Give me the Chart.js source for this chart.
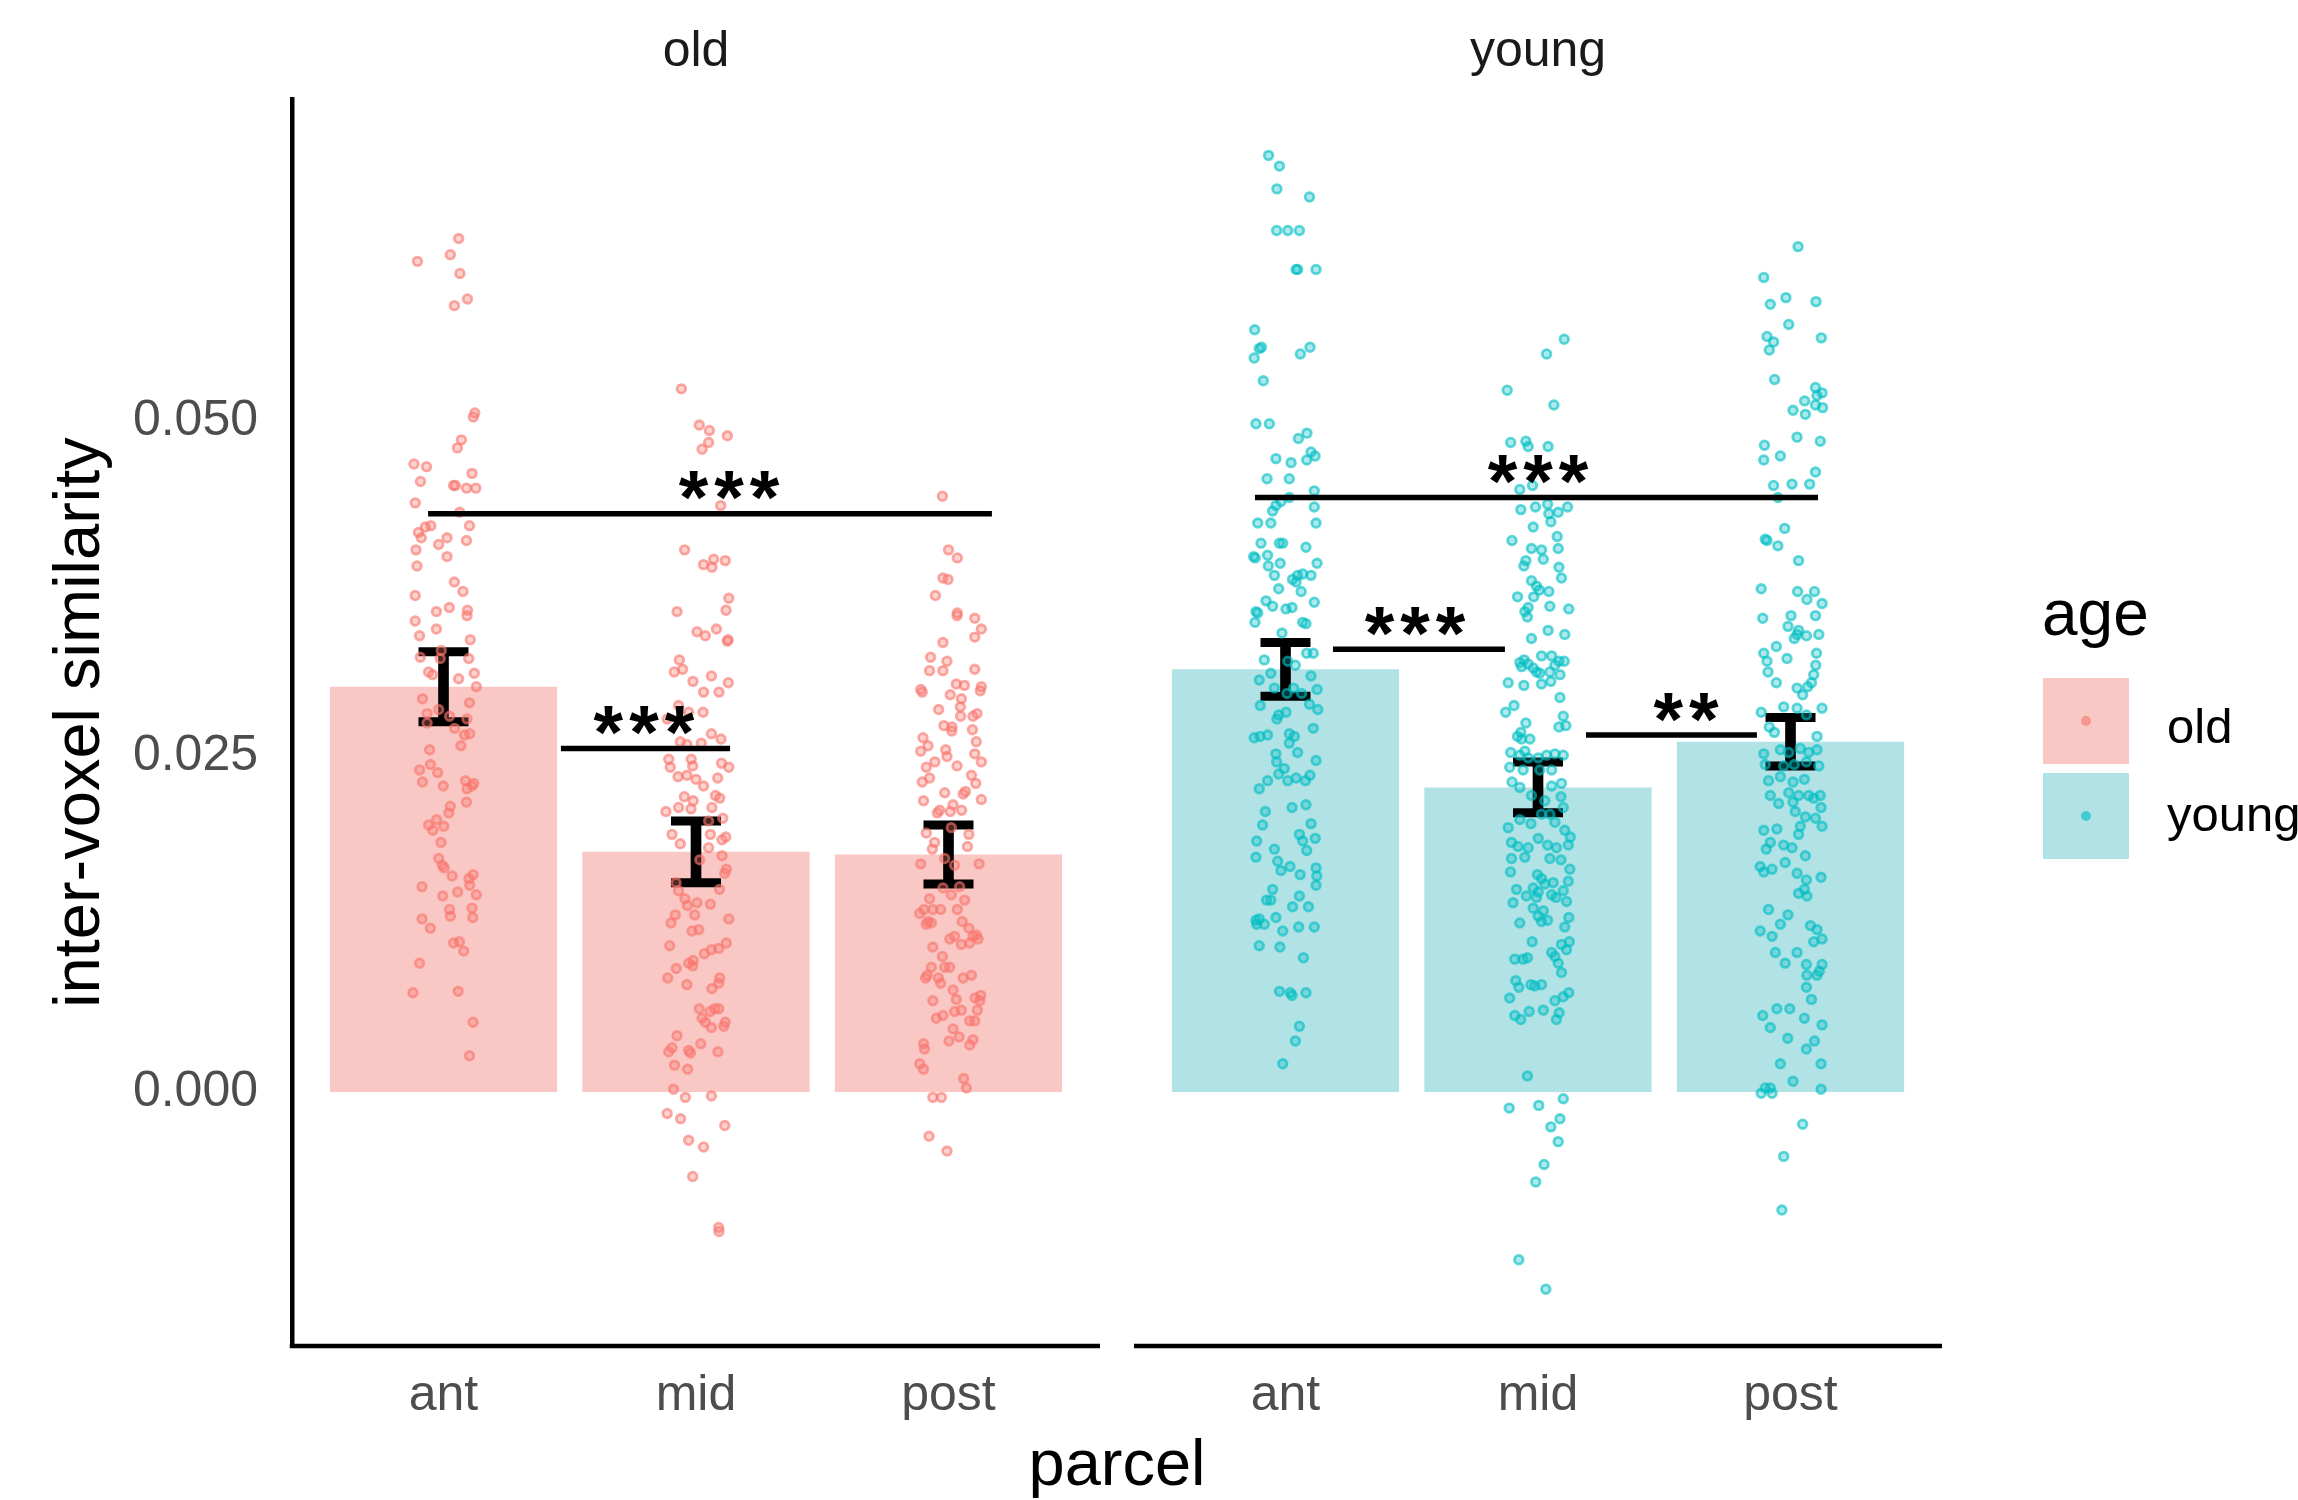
<!DOCTYPE html>
<html>
<head>
<meta charset="utf-8">
<title>inter-voxel similarity by parcel and age</title>
<script src="https://cdn.jsdelivr.net/npm/chart.js@4.4.1/dist/chart.umd.min.js"></script>
<style>
  html, body { margin: 0; padding: 0; background: #fff; overflow: hidden; }
  #wrap { position: relative; width: 2298px; height: 1500px; }
  #chart { position: absolute; left: 0; top: 0; }
  #legend { position: absolute; left: 0; top: 0; font-family: 'Liberation Sans', Arial, sans-serif; color: #000; }
  #legend .title { position: absolute; left: 2042px; top: 581px; font-size: 64px; line-height: 64px; white-space: nowrap; }
  #legend .key { position: absolute; left: 2043px; width: 86px; height: 86px; }
  #legend .key span { position: absolute; left: 38px; top: 38px; width: 10px; height: 10px; border-radius: 50%; }
  #legend .lab { position: absolute; left: 2167px; font-size: 49px; line-height: 49px; white-space: nowrap; }
</style>
</head>
<body>
<div id="wrap">
  <canvas id="chart" width="2298" height="1500"></canvas>
  <div id="legend"></div>
</div>
<script>
// ---- data ----
const parcels = ['ant', 'mid', 'post'];
const panels = ['old', 'young'];
const yTicks = [0, 0.025, 0.05];

// bar heights (means) and error bar half-widths
const oldMean = [0.0302, 0.0179, 0.0177];
const youngMean = [0.0315, 0.0227, 0.0261];
const oldSe = [0.0026, 0.0023, 0.0022];
const youngSe = [0.0020, 0.0019, 0.0018];

// significance brackets (x in parcel units inside each facet)
const sigPanel = [0, 0, 1, 1, 1];
const sigFrom = [-0.061, 0.465, -0.121, 0.188, 1.190];
const sigTo = [2.172, 1.135, 2.109, 0.869, 1.867];
const sigY = [0.0431, 0.0256, 0.0443, 0.0330, 0.0266];
const sigText = ['***', '***', '***', '***', '**'];
const sigTextX = [1.131, 0.794, 1.000, 0.513, 1.586];

// individual points: [jitter offset, value]
const oldAnt = [[0.060,0.0636],[-0.103,0.0619],[0.027,0.0624],[0.065,0.0610],[0.043,0.0586],[0.095,0.0591],
[0.124,0.0506],[0.118,0.0503],[0.071,0.0486],[0.055,0.0480],[-0.117,0.0468],[-0.067,0.0466],
[0.113,0.0461],[-0.091,0.0455],[0.040,0.0452],[0.047,0.0452],[0.091,0.0450],[0.128,0.0450],
[-0.112,0.0439],[0.064,0.0432],[-0.050,0.0422],[-0.072,0.0421],[-0.099,0.0417],[-0.088,0.0413],
[0.103,0.0422],[0.014,0.0413],[-0.019,0.0408],[0.091,0.0411],[0.014,0.0399],[-0.109,0.0404],
[-0.105,0.0392],[0.043,0.0380],[0.077,0.0373],[-0.112,0.0370],[-0.028,0.0358],[0.023,0.0361],
[0.095,0.0359],[0.093,0.0355],[-0.112,0.0351],[-0.095,0.0340],[-0.028,0.0345],[0.106,0.0337],
[-0.009,0.0329],[-0.092,0.0324],[-0.013,0.0323],[0.100,0.0323],[-0.059,0.0313],[-0.043,0.0311],
[0.122,0.0312],[0.060,0.0308],[0.130,0.0302],[-0.083,0.0293],[0.103,0.0290],[-0.019,0.0285],
[-0.065,0.0282],[0.024,0.0280],[0.093,0.0278],[-0.065,0.0275],[0.044,0.0271],[0.104,0.0267],
[0.083,0.0266],[0.069,0.0258],[-0.055,0.0255],[-0.095,0.0240],[-0.052,0.0244],[-0.023,0.0238],
[-0.083,0.0231],[-0.001,0.0228],[0.087,0.0232],[0.120,0.0230],[0.113,0.0228],[0.093,0.0226],
[0.091,0.0216],[0.027,0.0213],[0.021,0.0208],[-0.059,0.0199],[-0.042,0.0195],[-0.027,0.0203],
[0.001,0.0198],[-0.010,0.0186],[-0.019,0.0174],[-0.005,0.0169],[0.003,0.0167],[0.034,0.0161],
[0.117,0.0162],[0.101,0.0159],[0.104,0.0154],[-0.085,0.0153],[-0.003,0.0146],[0.056,0.0149],
[0.130,0.0147],[0.024,0.0136],[0.027,0.0131],[0.113,0.0137],[0.116,0.0130],[-0.085,0.0129],
[-0.052,0.0122],[0.040,0.0111],[0.063,0.0112],[0.080,0.0105],[-0.095,0.0096],[-0.121,0.0074],
[0.058,0.0075],[0.117,0.0052],[0.103,0.0027]];

const oldMid = [[-0.058,0.0524],[0.013,0.0497],[0.053,0.0493],[0.050,0.0484],[0.024,0.0479],[0.124,0.0489],
[0.098,0.0437],[-0.045,0.0404],[0.030,0.0393],[0.063,0.0391],[0.070,0.0397],[0.116,0.0396],
[0.130,0.0368],[0.119,0.0359],[-0.075,0.0358],[0.004,0.0343],[0.037,0.0340],[0.081,0.0345],
[0.127,0.0337],[0.124,0.0336],[-0.066,0.0322],[-0.086,0.0313],[-0.053,0.0315],[-0.012,0.0306],
[0.061,0.0310],[0.128,0.0305],[0.030,0.0298],[0.091,0.0298],[-0.069,0.0288],[-0.029,0.0283],
[0.028,0.0283],[-0.114,0.0278],[0.099,0.0263],[0.061,0.0267],[0.021,0.0260],[-0.062,0.0261],
[-0.036,0.0259],[-0.108,0.0248],[-0.102,0.0242],[-0.019,0.0248],[-0.013,0.0243],[0.101,0.0245],
[0.130,0.0242],[-0.071,0.0235],[-0.036,0.0236],[0.000,0.0233],[0.030,0.0228],[0.086,0.0234],
[-0.046,0.0220],[-0.011,0.0217],[0.077,0.0221],[0.094,0.0219],[-0.119,0.0209],[-0.069,0.0212],
[-0.020,0.0211],[0.063,0.0212],[0.050,0.0202],[0.106,0.0204],[-0.095,0.0192],[-0.062,0.0185],
[0.057,0.0192],[0.118,0.0190],[0.103,0.0188],[0.050,0.0182],[0.015,0.0173],[0.103,0.0176],
[0.120,0.0166],[0.114,0.0163],[-0.079,0.0156],[-0.069,0.0150],[-0.044,0.0144],[-0.034,0.0139],
[0.093,0.0151],[0.004,0.0141],[0.057,0.0140],[-0.082,0.0132],[-0.099,0.0126],[-0.005,0.0132],
[0.011,0.0121],[-0.016,0.0120],[0.130,0.0129],[-0.104,0.0109],[0.120,0.0111],[0.090,0.0107],
[0.061,0.0106],[0.033,0.0103],[-0.112,0.0085],[-0.078,0.0092],[-0.036,0.0080],[-0.029,0.0096],
[-0.011,0.0098],[-0.013,0.0094],[0.094,0.0085],[0.090,0.0081],[0.063,0.0077],[0.013,0.0062],
[0.024,0.0055],[0.056,0.0060],[0.074,0.0062],[0.037,0.0052],[0.061,0.0048],[0.116,0.0052],
[0.110,0.0049],[0.090,0.0062],[-0.075,0.0042],[-0.108,0.0030],[-0.095,0.0033],[-0.029,0.0031],
[-0.022,0.0029],[-0.085,0.0020],[-0.033,0.0017],[0.019,0.0036],[0.087,0.0030],[-0.089,0.0002],
[-0.042,-0.0004],[0.061,-0.0003],[-0.114,-0.0016],[-0.061,-0.0020],[0.114,-0.0025],[-0.029,-0.0036],
[0.030,-0.0041],[-0.013,-0.0063],[0.090,-0.0101],[0.091,-0.0104]];

const oldPost = [[-0.024,0.0444],[0.000,0.0404],[0.035,0.0398],[-0.022,0.0383],[-0.002,0.0382],[-0.052,0.0370],
[0.035,0.0357],[0.034,0.0355],[0.104,0.0353],[0.130,0.0345],[0.104,0.0339],[-0.022,0.0335],
[-0.071,0.0324],[-0.006,0.0321],[-0.075,0.0314],[-0.022,0.0314],[0.104,0.0315],[-0.110,0.0300],
[-0.104,0.0298],[0.031,0.0304],[0.063,0.0303],[0.130,0.0302],[0.126,0.0299],[0.007,0.0296],
[0.051,0.0293],[0.047,0.0287],[-0.039,0.0285],[0.048,0.0280],[0.097,0.0280],[0.113,0.0282],
[-0.018,0.0273],[0.013,0.0269],[0.014,0.0272],[-0.101,0.0264],[-0.110,0.0254],[-0.081,0.0258],
[0.095,0.0270],[-0.011,0.0255],[-0.006,0.0250],[0.110,0.0261],[0.104,0.0252],[0.130,0.0246],
[-0.088,0.0242],[-0.104,0.0231],[-0.075,0.0234],[-0.054,0.0246],[0.034,0.0243],[0.091,0.0236],
[0.108,0.0230],[-0.099,0.0217],[-0.015,0.0223],[0.018,0.0214],[0.067,0.0224],[0.058,0.0222],
[0.130,0.0218],[-0.035,0.0210],[-0.044,0.0208],[0.007,0.0209],[0.052,0.0210],[-0.088,0.0193],
[-0.055,0.0186],[-0.064,0.0181],[0.011,0.0197],[0.081,0.0192],[0.075,0.0183],[-0.110,0.0170],
[-0.015,0.0174],[0.024,0.0169],[0.121,0.0170],[-0.022,0.0152],[-0.075,0.0144],[0.044,0.0153],
[0.011,0.0147],[0.064,0.0143],[-0.097,0.0136],[-0.081,0.0127],[-0.114,0.0133],[-0.062,0.0136],
[-0.031,0.0136],[0.035,0.0136],[-0.088,0.0125],[-0.068,0.0126],[0.054,0.0127],[0.081,0.0122],
[0.110,0.0117],[0.097,0.0116],[0.117,0.0114],[0.084,0.0111],[-0.062,0.0108],[0.024,0.0116],
[0.005,0.0114],[0.051,0.0110],[-0.024,0.0101],[-0.015,0.0093],[0.005,0.0093],[-0.068,0.0093],
[-0.084,0.0087],[-0.091,0.0085],[-0.031,0.0081],[-0.040,0.0085],[0.058,0.0085],[0.091,0.0087],
[0.018,0.0076],[0.031,0.0069],[0.105,0.0070],[0.128,0.0072],[0.124,0.0068],[-0.062,0.0068],
[0.024,0.0060],[0.051,0.0061],[0.114,0.0061],[-0.048,0.0055],[-0.022,0.0057],[0.084,0.0053],
[0.104,0.0053],[0.018,0.0047],[0.042,0.0041],[0.002,0.0038],[0.097,0.0039],[0.084,0.0035],
[-0.099,0.0036],[-0.095,0.0032],[-0.114,0.0021],[-0.099,0.0017],[0.060,0.0010],[0.071,0.0003],
[-0.062,-0.0004],[-0.028,-0.0004],[-0.077,-0.0033],[-0.006,-0.0044]];

const youngAnt = [[-0.067,0.0698],[-0.024,0.0690],[-0.034,0.0673],[0.095,0.0667],[-0.035,0.0642],[0.009,0.0642],
[0.055,0.0642],[0.042,0.0613],[0.048,0.0613],[0.121,0.0613],[-0.122,0.0568],[-0.095,0.0555],
[-0.104,0.0554],[-0.124,0.0547],[0.059,0.0550],[0.097,0.0555],[-0.088,0.0530],[-0.117,0.0498],
[-0.064,0.0498],[0.051,0.0487],[0.085,0.0491],[-0.038,0.0472],[0.022,0.0469],[0.084,0.0471],
[0.101,0.0477],[0.117,0.0474],[-0.073,0.0457],[0.015,0.0457],[-0.038,0.0437],[-0.018,0.0440],
[-0.051,0.0433],[0.015,0.0443],[0.114,0.0448],[0.114,0.0436],[0.121,0.0424],[-0.110,0.0424],
[-0.058,0.0424],[-0.097,0.0409],[-0.024,0.0409],[-0.011,0.0409],[0.081,0.0406],[-0.126,0.0399],
[-0.120,0.0398],[-0.071,0.0400],[-0.068,0.0392],[-0.021,0.0394],[-0.044,0.0385],[0.028,0.0382],
[0.048,0.0385],[0.068,0.0386],[0.101,0.0385],[0.125,0.0394],[-0.027,0.0375],[0.062,0.0373],
[0.042,0.0380],[-0.117,0.0358],[-0.110,0.0357],[-0.077,0.0366],[-0.051,0.0362],[0.002,0.0360],
[0.026,0.0361],[0.114,0.0365],[-0.121,0.0350],[0.068,0.0350],[0.081,0.0349],[-0.014,0.0342],
[-0.084,0.0322],[0.009,0.0321],[-0.058,0.0312],[0.039,0.0318],[0.110,0.0327],[0.084,0.0327],
[-0.104,0.0307],[-0.044,0.0301],[0.006,0.0297],[0.032,0.0301],[0.064,0.0297],[0.101,0.0310],
[0.125,0.0300],[-0.100,0.0288],[-0.027,0.0281],[-0.034,0.0278],[0.002,0.0283],[0.095,0.0289],
[0.128,0.0285],[-0.124,0.0264],[-0.101,0.0265],[-0.071,0.0266],[0.015,0.0267],[0.035,0.0265],
[0.015,0.0260],[0.048,0.0253],[0.121,0.0247],[-0.038,0.0252],[-0.035,0.0246],[-0.005,0.0241],
[-0.027,0.0237],[-0.071,0.0232],[-0.104,0.0226],[0.009,0.0232],[0.042,0.0234],[0.079,0.0232],
[0.097,0.0236],[0.110,0.0271],[0.026,0.0212],[0.081,0.0214],[-0.080,0.0209],[-0.091,0.0199],
[-0.114,0.0187],[-0.117,0.0175],[0.055,0.0192],[0.068,0.0187],[0.084,0.0180],[0.101,0.0200],
[0.118,0.0189],[-0.044,0.0181],[-0.031,0.0172],[-0.018,0.0165],[0.018,0.0168],[0.058,0.0162],
[0.121,0.0167],[0.124,0.0161],[0.121,0.0154],[-0.051,0.0151],[-0.075,0.0143],[-0.058,0.0143],
[0.055,0.0146],[0.091,0.0138],[0.028,0.0138],[-0.117,0.0128],[-0.104,0.0129],[-0.114,0.0125],
[-0.084,0.0125],[-0.038,0.0130],[-0.011,0.0120],[0.052,0.0123],[0.114,0.0123],[-0.104,0.0109],
[-0.022,0.0108],[0.071,0.0100],[-0.024,0.0075],[0.019,0.0074],[0.026,0.0072],[0.081,0.0074],
[0.055,0.0049],[0.039,0.0038],[-0.011,0.0021]];

const youngMid = [[0.104,0.0561],[0.034,0.0550],[-0.122,0.0523],[0.063,0.0512],[-0.108,0.0484],[-0.048,0.0485],
[-0.039,0.0481],[0.040,0.0481],[-0.072,0.0449],[-0.022,0.0452],[-0.068,0.0434],[-0.010,0.0436],
[0.038,0.0438],[0.117,0.0436],[0.043,0.0431],[0.051,0.0425],[0.080,0.0432],[-0.103,0.0411],
[-0.019,0.0421],[0.076,0.0414],[-0.026,0.0405],[0.014,0.0404],[-0.048,0.0396],[-0.056,0.0392],
[0.021,0.0397],[0.080,0.0405],[0.083,0.0391],[0.093,0.0383],[-0.026,0.0381],[-0.006,0.0377],
[0.005,0.0374],[-0.017,0.0369],[0.043,0.0373],[-0.081,0.0369],[-0.039,0.0361],[-0.052,0.0358],
[0.047,0.0362],[0.122,0.0360],[-0.042,0.0354],[0.040,0.0344],[0.106,0.0341],[-0.026,0.0338],
[-0.072,0.0320],[-0.055,0.0322],[-0.065,0.0317],[-0.039,0.0319],[-0.019,0.0316],[0.014,0.0325],
[-0.006,0.0313],[0.054,0.0325],[0.067,0.0318],[0.083,0.0321],[0.104,0.0321],[0.007,0.0312],
[0.047,0.0313],[0.087,0.0311],[0.051,0.0306],[-0.118,0.0305],[-0.056,0.0303],[0.014,0.0304],
[-0.095,0.0288],[-0.128,0.0283],[0.087,0.0294],[0.100,0.0280],[0.110,0.0273],[0.083,0.0272],
[-0.048,0.0275],[-0.068,0.0268],[-0.081,0.0265],[-0.065,0.0263],[-0.032,0.0263],[-0.052,0.0254],
[-0.108,0.0253],[-0.072,0.0251],[-0.039,0.0249],[0.001,0.0249],[0.034,0.0251],[0.067,0.0252],
[0.100,0.0251],[-0.112,0.0242],[-0.059,0.0240],[0.007,0.0240],[0.054,0.0240],[-0.103,0.0231],
[-0.072,0.0227],[0.054,0.0228],[0.093,0.0230],[-0.026,0.0221],[0.027,0.0217],[0.091,0.0220],
[-0.118,0.0197],[-0.072,0.0203],[-0.028,0.0200],[0.014,0.0207],[0.047,0.0207],[0.067,0.0201],
[0.100,0.0212],[0.128,0.0190],[0.106,0.0195],[-0.105,0.0186],[-0.079,0.0183],[-0.039,0.0182],
[0.001,0.0189],[0.038,0.0184],[0.073,0.0182],[0.120,0.0184],[-0.105,0.0174],[-0.052,0.0175],
[0.047,0.0174],[0.091,0.0173],[0.126,0.0166],[-0.109,0.0164],[-0.002,0.0162],[0.014,0.0159],
[0.060,0.0156],[-0.085,0.0151],[-0.019,0.0152],[0.001,0.0149],[0.027,0.0155],[0.054,0.0147],
[0.100,0.0150],[0.120,0.0157],[-0.099,0.0141],[-0.046,0.0146],[-0.006,0.0145],[0.071,0.0145],
[0.113,0.0142],[-0.019,0.0137],[0.021,0.0135],[0.001,0.0131],[0.038,0.0128],[0.122,0.0130],
[0.106,0.0123],[-0.072,0.0126],[0.014,0.0127],[-0.023,0.0112],[0.054,0.0104],[0.093,0.0110],
[0.124,0.0112],[0.113,0.0106],[-0.092,0.0099],[-0.059,0.0099],[-0.042,0.0100],[0.067,0.0101],
[0.080,0.0096],[0.093,0.0089],[-0.088,0.0083],[-0.076,0.0078],[-0.028,0.0080],[-0.013,0.0079],
[0.014,0.0080],[-0.112,0.0070],[0.067,0.0068],[0.100,0.0071],[0.122,0.0074],[0.084,0.0059],
[-0.092,0.0057],[-0.068,0.0054],[-0.035,0.0060],[0.021,0.0061],[0.073,0.0054],[-0.042,0.0012],
[-0.114,-0.0012],[0.003,-0.0010],[0.100,-0.0005],[0.051,-0.0026],[0.087,-0.0020],[0.080,-0.0037],
[0.024,-0.0054],[-0.009,-0.0067],[-0.076,-0.0125],[0.031,-0.0147]];

const youngPost = [[0.030,0.0630],[-0.106,0.0607],[-0.080,0.0587],[-0.018,0.0592],[0.101,0.0589],[-0.007,0.0572],
[-0.093,0.0563],[-0.067,0.0559],[-0.084,0.0553],[0.122,0.0562],[-0.063,0.0531],[0.099,0.0525],
[0.125,0.0521],[0.105,0.0519],[0.056,0.0515],[0.099,0.0512],[0.127,0.0510],[0.010,0.0508],
[0.059,0.0505],[0.026,0.0488],[0.118,0.0485],[-0.103,0.0482],[-0.106,0.0471],[-0.040,0.0474],
[0.099,0.0462],[0.076,0.0453],[0.006,0.0453],[-0.067,0.0452],[-0.050,0.0443],[-0.023,0.0420],
[-0.100,0.0412],[-0.093,0.0411],[-0.050,0.0407],[0.032,0.0396],[-0.116,0.0375],[0.028,0.0373],
[0.065,0.0367],[0.095,0.0373],[0.125,0.0364],[-0.110,0.0353],[0.002,0.0355],[0.099,0.0355],
[-0.010,0.0347],[0.032,0.0344],[0.063,0.0340],[0.026,0.0341],[0.015,0.0338],[0.112,0.0341],
[-0.056,0.0332],[0.103,0.0327],[-0.106,0.0327],[-0.093,0.0321],[-0.014,0.0323],[0.100,0.0318],
[0.092,0.0311],[-0.089,0.0313],[-0.056,0.0305],[0.083,0.0305],[0.068,0.0302],[0.026,0.0301],
[0.048,0.0296],[0.125,0.0286],[0.026,0.0286],[0.063,0.0281],[-0.027,0.0287],[-0.116,0.0283],
[-0.084,0.0272],[-0.064,0.0268],[0.105,0.0265],[-0.106,0.0252],[-0.040,0.0255],[-0.007,0.0253],
[0.039,0.0256],[0.072,0.0253],[0.105,0.0255],[-0.100,0.0244],[-0.027,0.0243],[0.015,0.0244],
[0.063,0.0246],[0.112,0.0243],[-0.087,0.0232],[-0.040,0.0235],[0.010,0.0231],[0.055,0.0233],
[-0.080,0.0221],[-0.047,0.0215],[-0.007,0.0223],[0.032,0.0221],[0.072,0.0221],[0.092,0.0219],
[0.118,0.0221],[0.121,0.0212],[0.099,0.0204],[0.010,0.0216],[0.019,0.0209],[0.039,0.0198],
[0.059,0.0205],[-0.106,0.0195],[-0.054,0.0196],[0.032,0.0192],[0.125,0.0198],[-0.096,0.0181],
[-0.080,0.0186],[-0.027,0.0184],[0.006,0.0182],[0.059,0.0176],[-0.120,0.0168],[-0.106,0.0164],
[-0.073,0.0166],[-0.021,0.0171],[0.026,0.0163],[0.063,0.0158],[0.055,0.0151],[0.032,0.0148],
[0.065,0.0146],[0.121,0.0160],[-0.087,0.0136],[-0.040,0.0125],[-0.010,0.0132],[-0.120,0.0120],
[-0.073,0.0116],[0.079,0.0124],[0.105,0.0121],[0.092,0.0112],[0.125,0.0114],[-0.060,0.0104],
[-0.021,0.0096],[0.026,0.0104],[0.063,0.0095],[0.065,0.0087],[0.105,0.0087],[0.114,0.0090],
[0.125,0.0095],[0.063,0.0078],[0.083,0.0069],[-0.110,0.0057],[-0.080,0.0048],[-0.054,0.0062],
[-0.003,0.0062],[-0.011,0.0040],[0.055,0.0055],[0.063,0.0032],[0.095,0.0038],[0.125,0.0050],
[-0.040,0.0021],[0.010,0.0008],[0.121,0.0021],[-0.116,-0.0001],[-0.100,0.0003],[-0.080,0.0003],
[-0.073,-0.0001],[0.121,0.0002],[0.048,-0.0024],[-0.027,-0.0048],[-0.034,-0.0088]];

// ---- layout of the two facets on one linear x axis ----
const PANEL_SHIFT = 3.3347;       // second facet starts after a small gap
const X_MIN = -0.6, X_MAX = 2.6 + PANEL_SHIFT;
const Y_MIN = -0.01893, Y_MAX = 0.0740;
const FONT = "'Liberation Sans', Arial, Helvetica, sans-serif";

const barFill = ['#FAC8C4', '#B1E2E5'];
const dotLine = ['rgba(248,118,109,0.62)', 'rgba(0,191,196,0.62)'];
const dotFill = ['rgba(248,118,109,0.32)', 'rgba(0,191,196,0.32)'];

const means = [oldMean, youngMean];
const ses = [oldSe, youngSe];
const points = [[oldAnt, oldMid, oldPost], [youngAnt, youngMid, youngPost]];
const xAt = (p, i) => i + p * PANEL_SHIFT;

const datasets = [];
panels.forEach((name, p) => {
  // mean bars
  datasets.push({
    type: 'bar', label: name, order: 5, grouped: false,
    barPercentage: 0.9, categoryPercentage: 1,
    backgroundColor: barFill[p],
    data: means[p].map((v, i) => ({ x: xAt(p, i), y: v }))
  });
  // error bar stems
  datasets.push({
    type: 'bar', label: name + ' se', order: 4, grouped: false,
    barThickness: 10, backgroundColor: '#000',
    data: means[p].map((v, i) => ({ x: xAt(p, i), y: [v - ses[p][i], v + ses[p][i]] }))
  });
  // error bar caps
  const caps = [];
  means[p].forEach((v, i) => {
    caps.push({ x: xAt(p, i), y: v - ses[p][i] });
    caps.push({ x: xAt(p, i), y: v + ses[p][i] });
  });
  datasets.push({
    type: 'scatter', label: name + ' caps', order: 4,
    pointStyle: 'line', pointRadius: 25, pointBorderWidth: 9,
    pointBorderColor: '#000', data: caps
  });
  // jittered points
  const pts = [];
  points[p].forEach((grp, i) => grp.forEach(d => pts.push({ x: xAt(p, i) + d[0], y: d[1] })));
  datasets.push({
    type: 'scatter', label: name + ' points', order: 2,
    pointRadius: 4.3, pointBorderWidth: 2.8,
    pointBorderColor: dotLine[p], pointBackgroundColor: dotFill[p], data: pts
  });
});
// significance brackets
sigText.forEach((t, k) => {
  const off = sigPanel[k] * PANEL_SHIFT;
  datasets.push({
    type: 'line', label: 'sig ' + k, order: 1, fill: false,
    borderColor: '#000', borderWidth: 5.5, pointRadius: 0,
    data: [{ x: sigFrom[k] + off, y: sigY[k] }, { x: sigTo[k] + off, y: sigY[k] }]
  });
});

// facet axis lines and significance stars
const decor = {
  id: 'decor',
  afterDatasetsDraw(chart) {
    const { ctx, chartArea, scales: { x, y } } = chart;
    ctx.save();
    ctx.strokeStyle = '#000';
    ctx.lineWidth = 4.5;
    panels.forEach((n, p) => {
      const x0 = x.getPixelForValue(X_MIN + p * PANEL_SHIFT) - (p === 0 ? 2.25 : 0);
      const x1 = x.getPixelForValue(X_MIN + 3.2 + p * PANEL_SHIFT);
      ctx.beginPath();
      ctx.moveTo(x0, chartArea.bottom);
      ctx.lineTo(x1, chartArea.bottom);
      ctx.stroke();
    });
    ctx.fillStyle = '#000';
    ctx.font = 'bold 76px ' + FONT;
    ctx.letterSpacing = '6px';
    ctx.textAlign = 'center';
    ctx.textBaseline = 'alphabetic';
    sigText.forEach((t, k) => {
      const m = ctx.measureText(t);
      const cx = x.getPixelForValue(sigTextX[k] + sigPanel[k] * PANEL_SHIFT) + 3;
      const cy = y.getPixelForValue(sigY[k]) - 28;
      ctx.fillText(t, cx, cy + (m.actualBoundingBoxAscent - m.actualBoundingBoxDescent) / 2);
    });
    ctx.restore();
  }
};

const parcelTicks = [0, 1, 2, PANEL_SHIFT, 1 + PANEL_SHIFT, 2 + PANEL_SHIFT];
const stripTicks = [1, 1 + PANEL_SHIFT];

new Chart(document.getElementById('chart'), {
  type: 'bar',
  data: { datasets },
  plugins: [decor],
  options: {
    responsive: false,
    animation: false,
    devicePixelRatio: 1,
    events: [],
    layout: { padding: { left: 0, right: 2298 - 1942, top: 0, bottom: 0 } },
    plugins: { legend: { display: false }, tooltip: { enabled: false } },
    scales: {
      x: {
        type: 'linear', position: 'bottom', offset: false,
        min: X_MIN, max: X_MAX,
        grid: { display: false, drawTicks: false },
        border: { display: false },
        afterBuildTicks: s => { s.ticks = parcelTicks.map(v => ({ value: v })); },
        ticks: {
          autoSkip: false, maxRotation: 0, padding: 20, color: '#4D4D4D',
          font: { family: FONT, size: 50 },
          callback: (v, i) => parcels[i % 3]
        },
        title: {
          display: true, text: 'parcel', color: '#000',
          font: { family: FONT, size: 65, lineHeight: 1 },
          padding: { top: 0, bottom: 0 }
        },
        afterFit: s => { s.height = 154; }
      },
      xTop: {
        type: 'linear', axis: 'x', position: 'top', offset: false,
        min: X_MIN, max: X_MAX,
        grid: { display: false, drawTicks: false },
        border: { display: false },
        afterBuildTicks: s => { s.ticks = stripTicks.map(v => ({ value: v })); },
        ticks: {
          autoSkip: false, maxRotation: 0, padding: 17, color: '#1A1A1A',
          font: { family: FONT, size: 50 },
          callback: (v, i) => panels[i]
        },
        afterFit: s => { s.height = 99; }
      },
      y: {
        type: 'linear', min: Y_MIN, max: Y_MAX,
        grid: { display: false, drawTicks: false },
        border: { display: true, color: '#000', width: 4.5 },
        afterBuildTicks: s => { s.ticks = yTicks.map(v => ({ value: v })); },
        ticks: {
          padding: 34, color: '#4D4D4D',
          font: { family: FONT, size: 50 },
          callback: v => v.toFixed(3)
        },
        title: {
          display: true, text: 'inter-voxel similarity', color: '#000',
          font: { family: FONT, size: 65 },
          padding: { top: 42, bottom: 0 }
        },
        afterFit: s => { s.width = 292; }
      }
    }
  }
});

// legend (ggplot style: title above filled keys with a dot)
const lg = document.getElementById('legend');
const title = document.createElement('div');
title.className = 'title';
title.textContent = 'age';
lg.appendChild(title);
const keyTop = [678, 773];
const labTop = [702, 790];
panels.forEach((name, p) => {
  const key = document.createElement('div');
  key.className = 'key';
  key.style.top = keyTop[p] + 'px';
  key.style.background = barFill[p];
  const dot = document.createElement('span');
  dot.style.background = dotLine[p];
  key.appendChild(dot);
  lg.appendChild(key);
  const lab = document.createElement('div');
  lab.className = 'lab';
  lab.style.top = labTop[p] + 'px';
  lab.textContent = name;
  lg.appendChild(lab);
});
</script>
</body>
</html>
